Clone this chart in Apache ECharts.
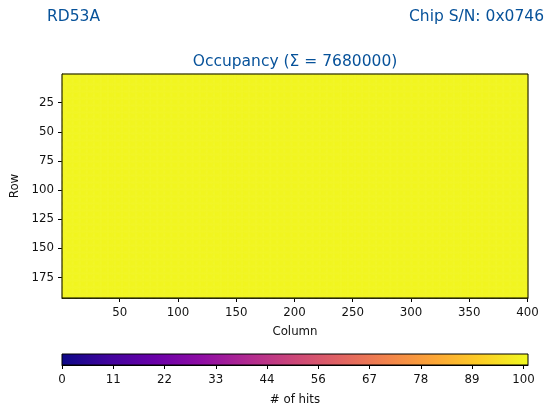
<!DOCTYPE html>
<html>
<head>
<meta charset="utf-8">
<script src="https://cdn.jsdelivr.net/npm/echarts@6/dist/echarts.min.js"></script>
<style>
html,body{margin:0;padding:0;background:#fff;}
#chart{width:544px;height:407px;}
</style>
</head>
<body>
<div id="chart"></div>
<script>
// ---- data ----
const chipName = 'RD53A';
const chipSN = 'Chip S/N: 0x0746';
const nColumns = 400;
const nRows = 192;
const hitsPerPixel = 100;          // every pixel reads 100 hits (uniform yellow map)
const colorMin = 0;
const colorMax = 101;
const columnTickLabels = [50, 100, 150, 200, 250, 300, 350, 400];
const rowTickLabels = [25, 50, 75, 100, 125, 150, 175];
const colorbarTickCount = 10;      // 0 .. 100 in 9 steps, labels rounded
const plasma = ['#0d0887', '#41049d', '#6a00a8', '#8f0da4', '#b12a90', '#cc4778',
                '#e16462', '#f2844b', '#fca636', '#fcce25', '#f0f921'];

const columns = [];
for (let c = 1; c <= nColumns; c++) columns.push(String(c));
const rows = [];
for (let r = 1; r <= nRows; r++) rows.push(String(r));
const cells = [];
for (let c = 0; c < nColumns; c++) {
  for (let r = 0; r < nRows; r++) cells.push([c, r, hitsPerPixel]);
}
const total = cells.reduce((s, d) => s + d[2], 0);
const cbarTicks = [];
for (let i = 0; i < colorbarTickCount; i++) cbarTicks.push(i * 100 / (colorbarTickCount - 1));

const FONT = 'DejaVu Sans';
const BLUE = '#07529a';
const TXT = '#111';

const chart = echarts.init(document.getElementById('chart'), null, {renderer: 'canvas'});
const colTickSet = new Set(columnTickLabels.map(String));
const rowTickSet = new Set(rowTickLabels.map(String));

chart.setOption({
  animation: false,
  backgroundColor: '#fff',
  textStyle: {fontFamily: FONT},
  graphic: [
    {type: 'text', left: 47, top: 9, style: {text: chipName, fill: BLUE, font: '15.5px "DejaVu Sans"'}},
    {type: 'text', right: 0, top: 9, style: {text: chipSN, fill: BLUE, font: '15.5px "DejaVu Sans"'}},
    {type: 'text', x: 295, y: 54, style: {text: 'Occupancy (\u03A3 = ' + total + ')', fill: BLUE, font: '15.5px "DejaVu Sans"', align: 'center', verticalAlign: 'top'}}
  ],
  grid: [
    {left: 62, top: 74, width: 466, height: 224, show: true, borderColor: '#000', borderWidth: 1, backgroundColor: 'transparent', z: 5},
    {left: 62, top: 354, width: 466, height: 11, show: true, borderColor: '#000', borderWidth: 1, backgroundColor: 'transparent', z: 5}
  ],
  xAxis: [
    {
      type: 'category', gridIndex: 0, data: columns,
      name: 'Column', nameLocation: 'middle', nameGap: 28,
      nameTextStyle: {fontFamily: FONT, fontSize: 11.8, color: TXT},
      axisLine: {show: true, lineStyle: {color: '#000', width: 1}},
      axisTick: {show: true, alignWithLabel: true, length: 4, lineStyle: {color: '#000'},
                 interval: (i, v) => colTickSet.has(v)},
      axisLabel: {show: true, interval: (i, v) => colTickSet.has(v), fontFamily: FONT, fontSize: 11.8, color: TXT, margin: 9},
      splitLine: {show: false}
    },
    {
      type: 'value', gridIndex: 1, min: colorMin, max: colorMax,
      name: '# of hits', nameLocation: 'middle', nameGap: 29,
      nameTextStyle: {fontFamily: FONT, fontSize: 11.8, color: TXT},
      axisLine: {show: true, lineStyle: {color: '#000', width: 1}},
      axisTick: {show: true, length: 4, lineStyle: {color: '#000'}, customValues: cbarTicks},
      axisLabel: {show: true, customValues: cbarTicks, formatter: v => String(Math.round(v)),
                  fontFamily: FONT, fontSize: 11.8, color: TXT, margin: 9},
      splitLine: {show: false}
    }
  ],
  yAxis: [
    {
      type: 'category', gridIndex: 0, data: rows, inverse: true,
      name: 'Row', nameLocation: 'middle', nameGap: 41, nameRotate: 90,
      nameTextStyle: {fontFamily: FONT, fontSize: 11.8, color: TXT},
      axisLine: {show: true, lineStyle: {color: '#000', width: 1}},
      axisTick: {show: true, alignWithLabel: true, length: 4, lineStyle: {color: '#000'},
                 interval: (i, v) => rowTickSet.has(v)},
      axisLabel: {show: true, interval: (i, v) => rowTickSet.has(v), fontFamily: FONT, fontSize: 11.8, color: TXT, margin: 8},
      splitLine: {show: false}
    },
    {
      type: 'value', gridIndex: 1, min: 0, max: 1, show: false
    }
  ],
  visualMap: {
    show: false, type: 'continuous', seriesIndex: 0, min: colorMin, max: colorMax,
    inRange: {color: plasma}
  },
  series: [
    {
      type: 'heatmap', xAxisIndex: 0, yAxisIndex: 0, data: cells,
      progressive: 0, emphasis: {disabled: true}
    },
    {
      type: 'custom', xAxisIndex: 1, yAxisIndex: 1, data: [[colorMin, colorMax]],
      silent: true,
      renderItem: (params, api) => {
        const p0 = api.coord([api.value(0), 0]);
        const p1 = api.coord([api.value(1), 1]);
        const stops = plasma.map((c, i) => ({offset: i / (plasma.length - 1), color: c}));
        return {
          type: 'rect',
          shape: {x: p0[0], y: p1[1], width: p1[0] - p0[0], height: p0[1] - p1[1]},
          style: {fill: new echarts.graphic.LinearGradient(0, 0, 1, 0, stops)}
        };
      }
    }
  ]
});
</script>
</body>
</html>
